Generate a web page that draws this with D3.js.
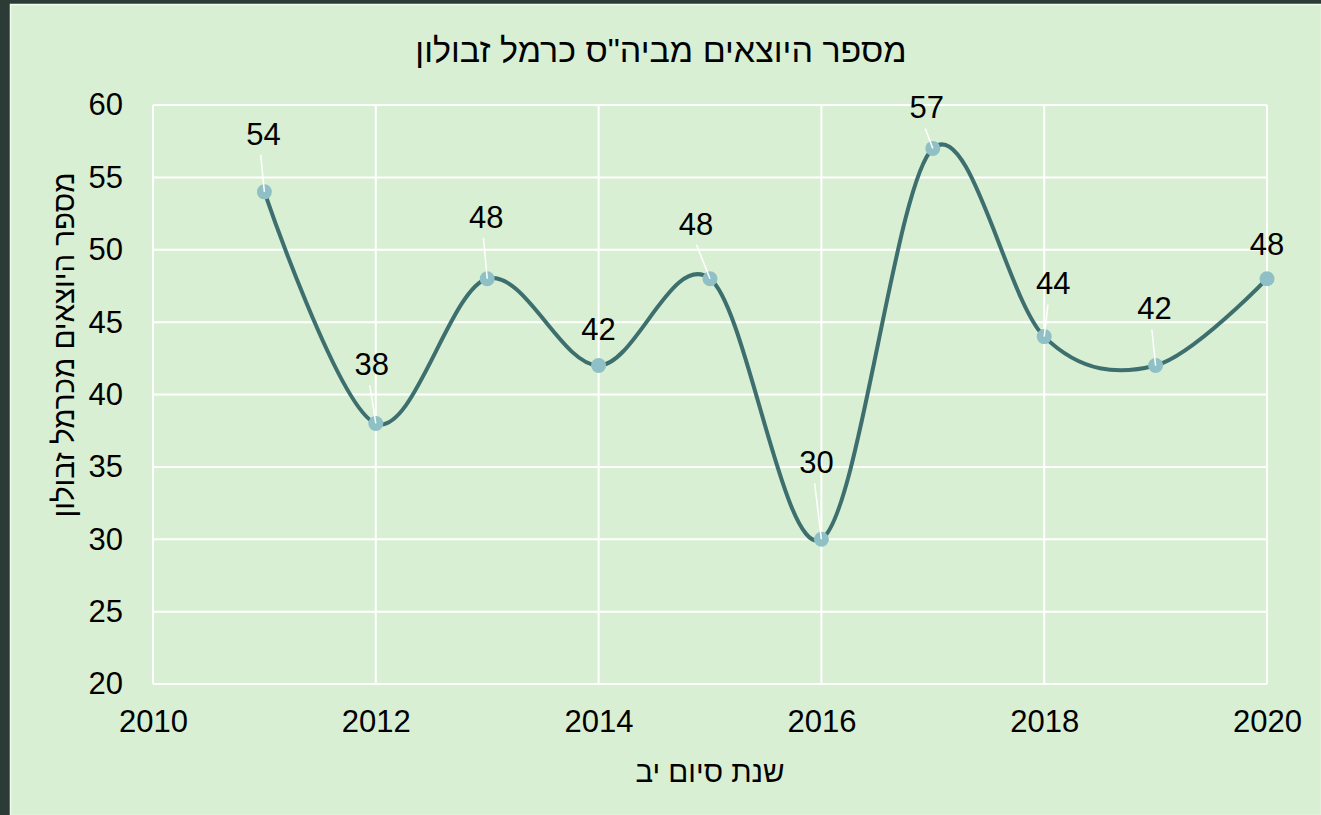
<!DOCTYPE html>
<html>
<head>
<meta charset="utf-8">
<script src="https://cdn.jsdelivr.net/npm/d3@7"></script>
<style>
	html, body { margin: 0; padding: 0; background: #2b3c37; }
	svg { display: block; font-family: "Liberation Sans", Arial, sans-serif; }
</style>
</head>
<body>
<div id="chart"></div>
<script>
// data
const years = [2011, 2012, 2013, 2014, 2015, 2016, 2017, 2018, 2019, 2020];
const graduates = [54, 38, 48, 42, 48, 30, 57, 44, 42, 48];
const xTicks = [2010, 2012, 2014, 2016, 2018, 2020];
const yTicks = [20, 25, 30, 35, 40, 45, 50, 55, 60];

const chartTitle = "מספר היוצאים מביה\"ס כרמל זבולון";
const xTitle = "שנת סיום יב";
const yTitle = "מספר היוצאים מכרמל זבולון";

// label nudges (px) as the labels were dragged in the original
const labelShift = [[-1, -58], [-4, -59], [-1, -62], [0, -36], [-14, -55], [-5, -77], [-6, -41], [9, -53], [-1, -57], [0, -35]];

const W = 1321, H = 815;
const margin = {top: 105, right: 54, bottom: 131, left: 153};
const plotW = W - margin.left - margin.right;
const plotH = H - margin.top - margin.bottom;
const FONT = "Liberation Sans, Arial, sans-serif";

const svg = d3.select("#chart").append("svg")
	.attr("width", W)
	.attr("height", H);

// chart background
svg.append("rect")
	.attr("x", 10.5).attr("y", 4.5)
	.attr("width", W - 10).attr("height", H - 4)
	.attr("fill", "#d9efd3")
	.attr("stroke", "#f2f9ef")
	.attr("stroke-width", 1.5);

const g = svg.append("g")
	.attr("transform", "translate(" + margin.left + "," + margin.top + ")");

const x = d3.scaleLinear().domain([2010, 2020]).range([0, plotW]);
const y = d3.scaleLinear().domain([20, 60]).range([plotH, 0]);

// gridlines
g.selectAll(".hgrid").data(yTicks).enter().append("line")
	.attr("x1", 0).attr("x2", plotW)
	.attr("y1", d => y(d)).attr("y2", d => y(d))
	.attr("stroke", "#ffffff").attr("stroke-width", 2);

g.selectAll(".vgrid").data(xTicks).enter().append("line")
	.attr("x1", d => x(d)).attr("x2", d => x(d))
	.attr("y1", 0).attr("y2", plotH)
	.attr("stroke", "#ffffff").attr("stroke-width", 2);

// axes (labels only)
const yAxis = d3.axisLeft(y).tickValues(yTicks).tickSize(0).tickPadding(30);
const xAxis = d3.axisBottom(x).tickValues(xTicks).tickSize(0).tickPadding(26).tickFormat(d3.format("d"));

g.append("g").call(yAxis)
	.attr("font-size", 31).attr("font-family", FONT)
	.call(a => a.select(".domain").remove())
	.selectAll("text").attr("fill", "#000");

g.append("g").attr("transform", "translate(0," + plotH + ")").call(xAxis)
	.attr("font-size", 31).attr("font-family", FONT)
	.call(a => a.select(".domain").remove())
	.selectAll("text").attr("fill", "#000");

// smoothed line
const points = years.map((yr, i) => ({year: yr, value: graduates[i], shift: labelShift[i]}));

const line = d3.line()
	.x(d => x(d.year))
	.y(d => y(d.value))
	.curve(d3.curveCardinal.tension(0));

g.append("path")
	.datum(points)
	.attr("fill", "none")
	.attr("stroke", "#3e6f6f")
	.attr("stroke-width", 4)
	.attr("d", line);

g.selectAll(".dot").data(points).enter().append("circle")
	.attr("cx", d => x(d.year))
	.attr("cy", d => y(d.value))
	.attr("r", 7.5)
	.attr("fill", "#8fc0c5");

// leader lines for labels moved away from their point
g.selectAll(".leader").data(points.filter(d => Math.hypot(d.shift[0], d.shift[1]) > 38)).enter().append("line")
	.attr("x1", d => x(d.year))
	.attr("y1", d => y(d.value))
	.attr("x2", d => x(d.year) + d.shift[0] * 0.75 - 3)
	.attr("y2", d => y(d.value) + d.shift[1] + 21)
	.attr("stroke", "#ffffff")
	.attr("stroke-width", 1.5);

g.selectAll(".lbl").data(points).enter().append("text")
	.attr("x", d => x(d.year) + d.shift[0])
	.attr("y", d => y(d.value) + d.shift[1])
	.attr("text-anchor", "middle")
	.attr("dy", "0.35em")
	.attr("font-size", 31)
	.attr("fill", "#000")
	.text(d => d.value);

// titles
svg.append("text")
	.attr("x", 661).attr("y", 50)
	.attr("text-anchor", "middle")
	.attr("dy", "0.35em")
	.attr("font-size", 34)
	.attr("fill", "#000")
	.text(chartTitle);

svg.append("text")
	.attr("x", margin.left + plotW / 2).attr("y", 772)
	.attr("text-anchor", "middle")
	.attr("dy", "0.35em")
	.attr("font-size", 29.5)
	.attr("fill", "#000")
	.text(xTitle);

svg.append("text")
	.attr("transform", "translate(64,345) rotate(-90)")
	.attr("text-anchor", "middle")
	.attr("dy", "0.35em")
	.attr("font-size", 29.5)
	.attr("fill", "#000")
	.text(yTitle);
</script>
</body>
</html>
